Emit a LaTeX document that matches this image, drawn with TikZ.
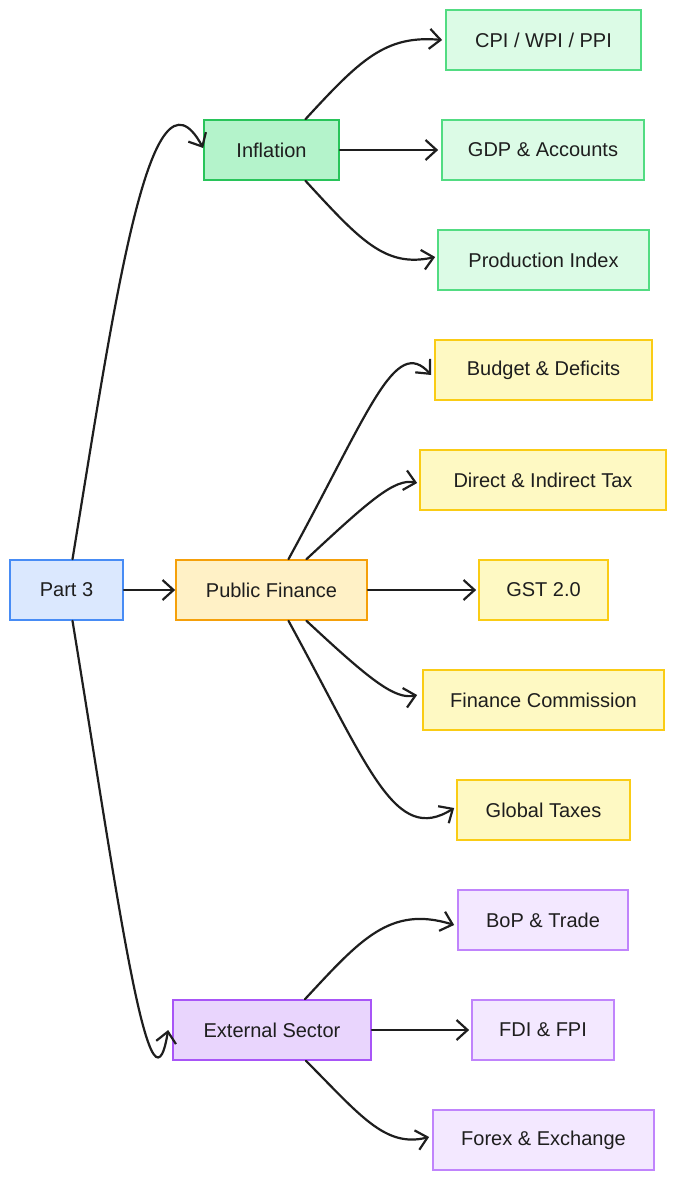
\documentclass[tikz,border=0pt]{standalone}
\usepackage{fontspec}
\setmainfont{Liberation Sans}
\usepackage{tikz}
\usetikzlibrary{arrows.meta, positioning, calc}
\definecolor{inkdark}{RGB}{30, 30, 30}
\definecolor{rootfill}{RGB}{219, 232, 254}
\definecolor{rootdraw}{RGB}{72, 140, 245}
\definecolor{inffill}{RGB}{180, 243, 203}
\definecolor{infdraw}{RGB}{40, 196, 90}
\definecolor{infleaf}{RGB}{220, 251, 230}
\definecolor{infleafdraw}{RGB}{82, 220, 130}
\definecolor{pubfill}{RGB}{255, 241, 198}
\definecolor{pubdraw}{RGB}{245, 160, 10}
\definecolor{publeaf}{RGB}{254, 249, 195}
\definecolor{publeafdraw}{RGB}{250, 204, 21}
\definecolor{extfill}{RGB}{233, 213, 253}
\definecolor{extdraw}{RGB}{168, 85, 247}
\definecolor{extleaf}{RGB}{243, 232, 255}
\definecolor{extleafdraw}{RGB}{192, 132, 252}

\tikzset{
  box/.style={draw, line width=1.7pt, minimum height=60, inner sep=0pt,
    font=\fontsize{20}{24}\selectfont, text=inkdark},
  link/.style={draw=inkdark, line width=2.2pt, line cap=round,
    -{Straight Barb[length=11pt, width=20pt, line width=2.2pt]}}
}

\begin{document}
\begin{tikzpicture}[x=1pt, y=-1pt]
    \useasboundingbox (0,0) rectangle (676,1180);

    % Root
    \node[box, fill=rootfill, draw=rootdraw, minimum width=113] (part) at (66.5,590) {Part 3};

    % Branches
    \node[box, fill=inffill, draw=infdraw, minimum width=135] (infl) at (271.5,150) {Inflation};
    \node[box, fill=pubfill, draw=pubdraw, minimum width=191] (pubfin) at (271.5,590) {Public Finance};
    \node[box, fill=extfill, draw=extdraw, minimum width=198] (extsec) at (272,1030) {External Sector};

    % Inflation leaves
    \node[box, fill=infleaf, draw=infleafdraw, minimum width=195] (cpi) at (543.5,40) {CPI / WPI / PPI};
    \node[box, fill=infleaf, draw=infleafdraw, minimum width=202] (gdp) at (543,150) {GDP \& Accounts};
    \node[box, fill=infleaf, draw=infleafdraw, minimum width=211] (prod) at (543.5,260) {Production Index};

    % Public finance leaves
    \node[box, fill=publeaf, draw=publeafdraw, minimum width=217] (budget) at (543.5,370) {Budget \& Deficits};
    \node[box, fill=publeaf, draw=publeafdraw, minimum width=246] (tax) at (543,480) {Direct \& Indirect Tax};
    \node[box, fill=publeaf, draw=publeafdraw, minimum width=129] (gst) at (543.5,590) {GST 2.0};
    \node[box, fill=publeaf, draw=publeafdraw, minimum width=241] (fincom) at (543.5,700) {Finance Commission};
    \node[box, fill=publeaf, draw=publeafdraw, minimum width=173] (global) at (543.5,810) {Global Taxes};

    % External sector leaves
    \node[box, fill=extleaf, draw=extleafdraw, minimum width=170] (bop) at (543,920) {BoP \& Trade};
    \node[box, fill=extleaf, draw=extleafdraw, minimum width=142] (fdi) at (543,1030) {FDI \& FPI};
    \node[box, fill=extleaf, draw=extleafdraw, minimum width=221] (forex) at (543.5,1140) {Forex \& Exchange};

    % Root links
    \draw[link] ([xshift=6]part.north) .. controls (115,300) and (150,50) .. ([yshift=2]infl.west);
    \draw[link] (part.east) -- (pubfin.west);
    \draw[link] ([xshift=6]part.south) .. controls (115,880) and (150,1140) .. ([xshift=-4]extsec.west);

    % Inflation links
    \draw[link] ([xshift=34]infl.north) .. controls (360,60) and (385,35) .. ([xshift=-3]cpi.west);
    \draw[link] (infl.east) -- ([xshift=-3]gdp.west);
    \draw[link] ([xshift=34]infl.south) .. controls (360,240) and (385,268) .. ([xshift=-2,yshift=3]prod.west);

    % Public finance links
    \draw[link] ([xshift=17]pubfin.north) .. controls (370,410) and (395,335) .. ([xshift=-3,yshift=-5]budget.west);
    \draw[link] ([xshift=35]pubfin.north) .. controls (370,500) and (395,478) .. ([xshift=-2,yshift=-3]tax.west);
    \draw[link] (pubfin.east) -- ([xshift=-2]gst.west);
    \draw[link] ([xshift=35]pubfin.south) .. controls (370,680) and (395,700) .. ([xshift=-5,yshift=5]fincom.west);
    \draw[link] ([xshift=17]pubfin.south) .. controls (370,770) and (395,845) .. ([xshift=-2,yshift=2]global.west);

    % External sector links
    \draw[link] ([xshift=33]extsec.north) .. controls (360,940) and (390,905) .. ([xshift=-3,yshift=-5]bop.west);
    \draw[link] (extsec.east) -- ([xshift=-2]fdi.west);
    \draw[link] ([xshift=34]extsec.south) .. controls (360,1115) and (385,1148) .. ([xshift=-3,yshift=3]forex.west);
\end{tikzpicture}
\end{document}
